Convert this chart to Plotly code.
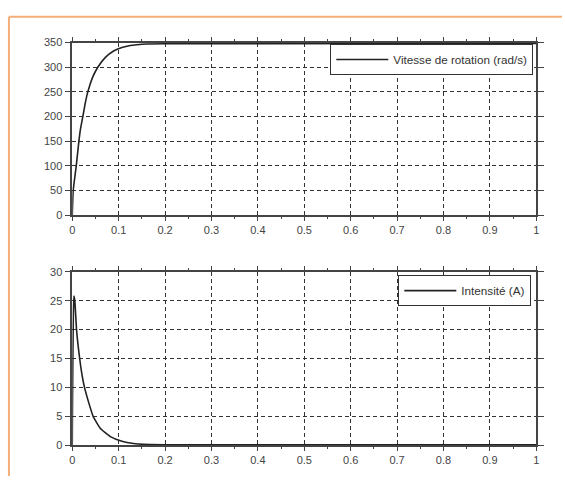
import plotly.graph_objects as go

# Speed (rad/s)
t_speed = [0, 0.002, 0.0086, 0.0143, 0.0178, 0.0228, 0.028, 0.0335, 0.044, 0.055, 0.0714, 0.089, 0.107, 0.125, 0.139, 0.16, 0.2, 1.0]
v_speed = [0, 50, 100, 150, 175, 200, 227, 250, 280, 300, 320, 333, 340, 344, 345.5, 347, 347.5, 348]

# Current (A)
t_cur = [0, 0.0005, 0.0015, 0.0025, 0.0035, 0.0055, 0.0092, 0.016, 0.0214, 0.0264, 0.035, 0.045, 0.0607, 0.082, 0.107, 0.132, 0.153, 0.2, 1.0]
i_cur = [0, 7, 17, 23, 25.8, 25, 20, 15, 12, 10, 7.5, 5, 2.9, 1.5, 0.7, 0.3, 0.15, 0.1, 0.1]

x_ticks = [0, 0.1, 0.2, 0.3, 0.4, 0.5, 0.6, 0.7, 0.8, 0.9, 1]
x_labels = ["0", "0.1", "0.2", "0.3", "0.4", "0.5", "0.6", "0.7", "0.8", "0.9", "1"]

W, H = 565, 482


def px(x):
    return x / W


def py(y):
    return 1 - y / H


fig = go.Figure()
fig.add_trace(go.Scatter(x=t_speed, y=v_speed, mode="lines", name="Vitesse de rotation (rad/s)",
                         line=dict(color="#222", width=1.6, shape="spline", smoothing=0.4),
                         xaxis="x", yaxis="y", legend="legend"))
fig.add_trace(go.Scatter(x=t_cur, y=i_cur, mode="lines", name="Intensité (A)",
                         line=dict(color="#222", width=1.6, shape="spline", smoothing=0.4),
                         xaxis="x2", yaxis="y2", legend="legend2"))

font = dict(family="Liberation Sans, Arial, sans-serif", size=11, color="#444")
grid = dict(showgrid=True, gridcolor="#333", gridwidth=1, griddash="4px,3px",
            showline=True, linecolor="#444", linewidth=1.5, mirror="ticks",
            ticks="outside", tickcolor="#444", zeroline=False, tickfont=font)
leg_font = dict(family="Liberation Sans, Arial, sans-serif", size=11.7, color="#333")

xd = [px(70), px(539)]
fig.update_layout(
    width=W, height=H, margin=dict(l=0, r=0, t=0, b=0),
    paper_bgcolor="white", plot_bgcolor="white",
    showlegend=True,
    xaxis=dict(domain=xd, range=[0, 1], tickvals=x_ticks, ticktext=x_labels, ticklen=4,
               minor=dict(ticks="outside", ticklen=2, dtick=0.05, tickcolor="#444", showgrid=False),
               anchor="y", **grid),
    yaxis=dict(domain=[py(214.5), py(37.5)], range=[0, 350], dtick=50, ticklen=6,
               anchor="x", **grid),
    xaxis2=dict(domain=xd, range=[0, 1], tickvals=x_ticks, ticktext=x_labels, ticklen=4,
                minor=dict(ticks="outside", ticklen=2, dtick=0.05, tickcolor="#444", showgrid=False),
                anchor="y2", **grid),
    yaxis2=dict(domain=[py(450.5), py(272.5)], range=[0, 30], dtick=5, ticklen=6,
                anchor="x2", **grid),
    legend=dict(x=px(536), y=py(39), xanchor="right", yanchor="top",
                bgcolor="white", bordercolor="#333", borderwidth=1,
                font=leg_font, tracegroupgap=0, itemwidth=52),
    legend2=dict(x=px(534), y=py(276), xanchor="right", yanchor="top",
                 bgcolor="white", bordercolor="#333", borderwidth=1,
                 font=leg_font, tracegroupgap=0, itemwidth=52),
    shapes=[
        dict(type="line", xref="paper", yref="paper", x0=px(6), x1=1, y0=py(11), y1=py(11),
             line=dict(color="#F5AE78", width=2)),
        dict(type="line", xref="paper", yref="paper", x0=px(6), x1=px(6), y0=0, y1=py(11),
             line=dict(color="#F5AE78", width=2)),
    ],
)

fig.write_html("out.html", config={"displayModeBar": False},
               post_script="document.body.style.margin='0';document.body.style.overflow='hidden';")
